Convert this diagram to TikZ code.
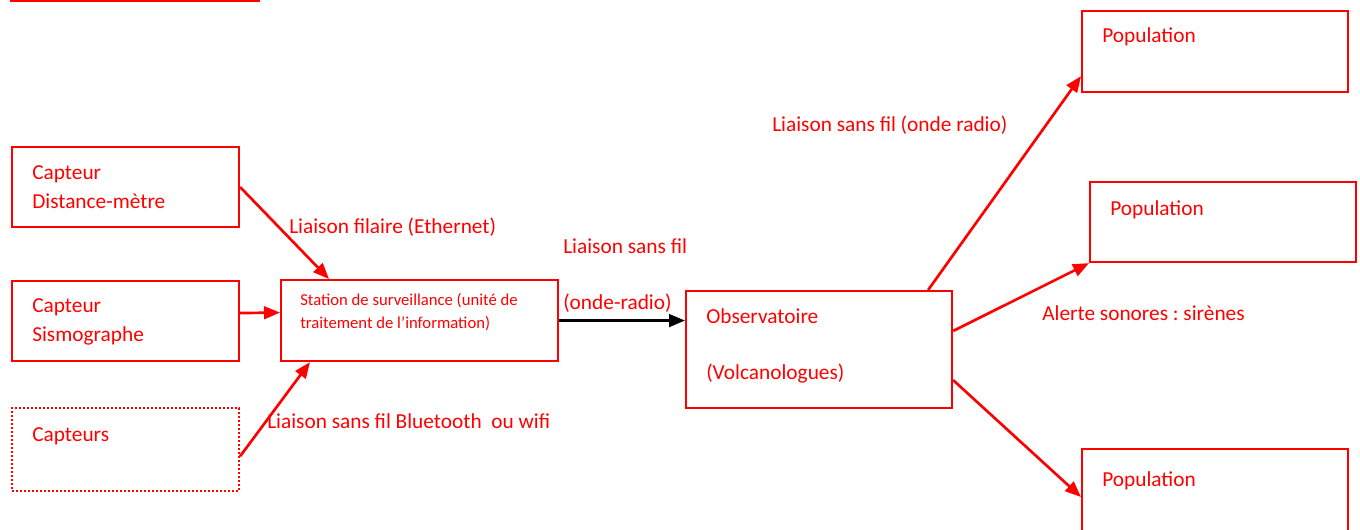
\documentclass[tikz,border=0pt]{standalone}
\usepackage{fontspec}
\setmainfont{Carlito}
\usetikzlibrary{calc, arrows.meta, positioning}
\definecolor{alarmred}{RGB}{255,0,0}
\frenchspacing

\begin{document}
\begin{tikzpicture}[x=0.75pt, y=-0.75pt, font=\fontsize{16}{19}\selectfont,
    box/.style={draw=alarmred, line width=1.6pt, inner sep=0pt, anchor=north west},
    txt/.style={text=alarmred, anchor=base west, inner sep=0pt},
    link/.style={draw=alarmred, line width=2pt, -{Triangle[length=12pt, width=9.5pt]}}]
			\useasboundingbox (0,0) rectangle (1360,530);
			\draw[alarmred, line width=1.5pt] (10,1) -- (260,1);
			% capteurs
			\node[box, minimum width=170.25pt, minimum height=60pt] (cap1) at (11,146) {};
			\node[box, minimum width=170.25pt, minimum height=60pt] (cap2) at (11,280) {};
			\node[box, dash pattern=on 1.5pt off 1.5pt, minimum width=170.25pt, minimum height=62.25pt] (cap3) at (11,407) {};
			\node[txt] (cap1a) at (32,180) {Capteur};
			\node[txt] (cap1b) at (32,209) {Distance-mètre};
			\node[txt] (cap2a) at (32,313) {Capteur};
			\node[txt] (cap2b) at (32,342) {Sismographe};
			\node[txt] (cap3a) at (32,442) {Capteurs};
			% station et observatoire
			\node[box, minimum width=207.75pt, minimum height=60.75pt] (station) at (280,279) {};
			\node[txt, font=\fontsize{12.5}{15}\selectfont] (stat1) at (300,306) {Station de surveillance (unité de};
			\node[txt, font=\fontsize{12.5}{15}\selectfont] (stat2) at (300,329) {traitement de l’information)};
			\node[box, minimum width=199.5pt, minimum height=87.75pt] (obs) at (685,290) {};
			\node[txt] (obs1) at (706,324) {Observatoire};
			\node[txt] (obs2) at (706,380) {(Volcanologues)};
			% population
			\node[box, minimum width=199.5pt, minimum height=60.75pt] (pop1) at (1081,10) {};
			\node[box, minimum width=199.5pt, minimum height=60pt] (pop2) at (1089,181) {};
			\node[box, minimum width=199.5pt, minimum height=75pt] (pop3) at (1081,448) {};
			\node[txt] (pop1a) at (1102,43) {Population};
			\node[txt] (pop2a) at (1110,216) {Population};
			\node[txt] (pop3a) at (1102,487) {Population};
			% liaisons
			\draw[link] (cap1.east) -- ([xshift=36.75pt]station.north west);
			\draw[link] ([yshift=6pt]cap2.east) -- ([yshift=6pt]station.west);
			\draw[link] ([yshift=-5pt]cap3.east) -- ([xshift=22.5pt]station.south west);
			\draw[link, draw=black] (station.east) -- (station.east -| obs.west);
			\draw[link] ([xshift=-18.75pt]obs.north east) -- ([yshift=12.75pt]pop1.south west);
			\draw[link] ([yshift=13.9pt]obs.east) -- (pop2.south west);
			\draw[link] ([yshift=-22.9pt]obs.east) -- ([yshift=-36.75pt]pop3.north west);
			\node[txt] (eth) at (289,234) {Liaison filaire (Ethernet)};
			\node[txt] (bt) at (267,429) {Liaison sans fil Bluetooth\ \ ou wifi};
			\node[txt] (radio1) at (563,254) {Liaison sans fil};
			\node[txt] (radio2) at (563,310) {(onde-radio)};
			\node[txt] (radio3) at (772,132) {Liaison sans fil (onde radio)};
			\node[txt] (siren) at (1042,321) {Alerte sonores : sirènes};
		\end{tikzpicture}
\end{document}
